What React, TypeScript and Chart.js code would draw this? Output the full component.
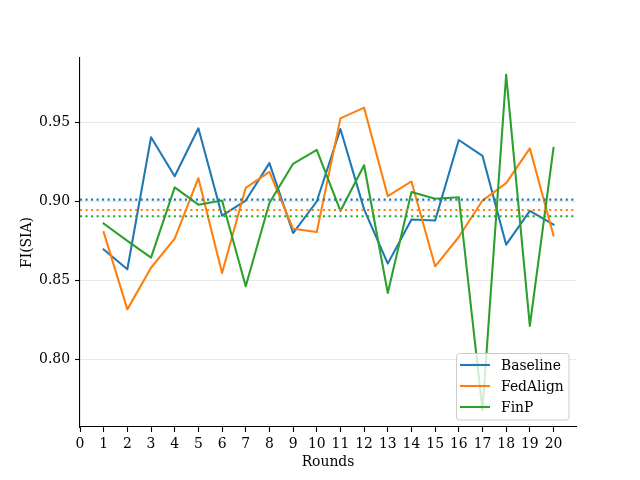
import React, { useEffect, useRef } from "react";
import { Chart, registerables } from "chart.js";

Chart.register(...registerables);

const rounds = [1, 2, 3, 4, 5, 6, 7, 8, 9, 10, 11, 12, 13, 14, 15, 16, 17, 18, 19, 20];
const baseline = [0.8696, 0.857, 0.9407, 0.916, 0.9464, 0.891, 0.9006, 0.9243, 0.880, 0.900,
  0.946, 0.895, 0.8606, 0.8886, 0.888, 0.939, 0.929, 0.8726, 0.894, 0.8854];
const fedAlign = [0.8806, 0.8316, 0.858, 0.8764, 0.9148, 0.8546, 0.9087, 0.9188, 0.8827, 0.8806,
  0.9527, 0.9595, 0.9034, 0.9127, 0.8589, 0.8775, 0.9006, 0.9116, 0.9337, 0.8785];
const finP = [0.886, 0.875, 0.8644, 0.909, 0.898, 0.9006, 0.8462, 0.899, 0.9239, 0.9327,
  0.894, 0.923, 0.842, 0.906, 0.9017, 0.9027, 0.7677, 0.9804, 0.8211, 0.934];
const seriesNames = ["Baseline", "FedAlign", "FinP"];
const seriesColors = ["#1f77b4", "#ff7f0e", "#2ca02c"];
const refLines = [0.9012, 0.8946, 0.8907];
const xTickValues = [0, 1, 2, 3, 4, 5, 6, 7, 8, 9, 10, 11, 12, 13, 14, 15, 16, 17, 18, 19, 20];
const yTickValues = [0.8, 0.85, 0.9, 0.95];

const FONT = "'DejaVu Serif', serif";
const FS = 13.9;
const LW = 2.08;

export default function App() {
  const ref = useRef<HTMLCanvasElement | null>(null);

  useEffect(() => {
    if (!ref.current) return;
    const seriesData = [baseline, fedAlign, finP];

    const refLinePlugin = {
      id: "refLines",
      afterDatasetsDraw(chart: any) {
        const { ctx, chartArea } = chart;
        const y = chart.scales.y;
        ctx.save();
        ctx.beginPath();
        ctx.rect(chartArea.left, chartArea.top, chartArea.right - chartArea.left, chartArea.bottom - chartArea.top);
        ctx.clip();
        refLines.forEach((v, i) => {
          const py = y.getPixelForValue(v);
          ctx.strokeStyle = seriesColors[i];
          ctx.lineWidth = LW;
          ctx.setLineDash([2.08, 3.44]);
          ctx.lineCap = "butt";
          ctx.beginPath();
          ctx.moveTo(chartArea.left, py);
          ctx.lineTo(chartArea.right, py);
          ctx.stroke();
        });
        ctx.restore();
      },
    };

    const legendPlugin = {
      id: "mplLegend",
      afterDraw(chart: any) {
        const { ctx } = chart;
        ctx.save();
        const bx = 456.5, by = 353.5, bw = 112.5, bh = 66.5, r = 3;
        ctx.beginPath();
        ctx.moveTo(bx + r, by);
        ctx.lineTo(bx + bw - r, by);
        ctx.arcTo(bx + bw, by, bx + bw, by + r, r);
        ctx.lineTo(bx + bw, by + bh - r);
        ctx.arcTo(bx + bw, by + bh, bx + bw - r, by + bh, r);
        ctx.lineTo(bx + r, by + bh);
        ctx.arcTo(bx, by + bh, bx, by + bh - r, r);
        ctx.lineTo(bx, by + r);
        ctx.arcTo(bx, by, bx + r, by, r);
        ctx.closePath();
        ctx.fillStyle = "rgba(255,255,255,0.8)";
        ctx.fill();
        ctx.strokeStyle = "#cccccc";
        ctx.lineWidth = 1;
        ctx.stroke();
        ctx.font = `${FS}px ${FONT}`;
        ctx.textBaseline = "middle";
        ctx.textAlign = "left";
        seriesNames.forEach((name, i) => {
          const ry = 365 + i * 21;
          ctx.strokeStyle = seriesColors[i];
          ctx.lineWidth = LW;
          ctx.setLineDash([]);
          ctx.beginPath();
          ctx.moveTo(460, ry);
          ctx.lineTo(490, ry);
          ctx.stroke();
          ctx.fillStyle = "#000";
          ctx.fillText(name, 501, ry + 1);
        });
        ctx.restore();
      },
    };

    const chart = new Chart(ref.current, {
      type: "line",
      data: {
        datasets: seriesNames.map((name, i) => ({
          label: name,
          data: rounds.map((r, j) => ({ x: r, y: seriesData[i][j] })),
          borderColor: seriesColors[i],
          backgroundColor: seriesColors[i],
          borderWidth: LW,
          pointRadius: 0,
          tension: 0,
          borderJoinStyle: "round" as const,
          borderCapStyle: "square" as const,
          fill: false,
          order: 2 - i,
        })),
      },
      options: {
        animation: false,
        responsive: false,
        devicePixelRatio: 1,
        layout: { padding: { left: 0, top: 58, right: 64, bottom: 0 } },
        plugins: {
          legend: { display: false },
          tooltip: { enabled: false },
          title: { display: false },
        },
        scales: {
          x: {
            type: "linear",
            min: 0,
            max: 20.95,
            afterBuildTicks: (scale: any) => {
              scale.ticks = xTickValues.map((v) => ({ value: v }));
            },
            afterFit: (scale: any) => {
              scale.height = 53;
            },
            ticks: {
              autoSkip: false,
              maxRotation: 0,
              padding: 4,
              color: "#000",
              font: { family: FONT, size: FS },
              callback: (v: any) => String(v),
            },
            grid: {
              drawOnChartArea: false,
              drawTicks: true,
              tickLength: 5,
              tickColor: "#000",
              tickWidth: 1.1,
            },
            border: { display: true, color: "#000", width: 1.1 },
            title: {
              display: true,
              text: "Rounds",
              color: "#000",
              font: { family: FONT, size: FS },
              padding: { top: 0, bottom: 9.7 },
            },
          },
          y: {
            type: "linear",
            min: 0.757,
            max: 0.991,
            afterBuildTicks: (scale: any) => {
              scale.ticks = yTickValues.map((v) => ({ value: v }));
            },
            afterFit: (scale: any) => {
              scale.width = 80;
            },
            ticks: {
              padding: 5,
              color: "#000",
              font: { family: FONT, size: FS },
              callback: (v: any) => Number(v).toFixed(2),
            },
            grid: {
              drawOnChartArea: true,
              color: "#e8e8e8",
              lineWidth: 1,
              drawTicks: true,
              tickLength: 5,
              tickColor: "#000",
              tickWidth: 1.1,
            },
            border: { display: true, color: "#000", width: 1.1 },
            title: {
              display: true,
              text: "FI(SIA)",
              color: "#000",
              font: { family: FONT, size: FS },
              padding: { top: 19, bottom: 0 },
            },
          },
        },
      },
      plugins: [refLinePlugin, legendPlugin],
    });
    return () => chart.destroy();
  }, []);

  return (
    <div style={{ position: "fixed", left: 0, top: 0, width: 640, height: 480, background: "#fff" }}>
      <canvas ref={ref} width={640} height={480} style={{ width: 640, height: 480 }} />
    </div>
  );
}
